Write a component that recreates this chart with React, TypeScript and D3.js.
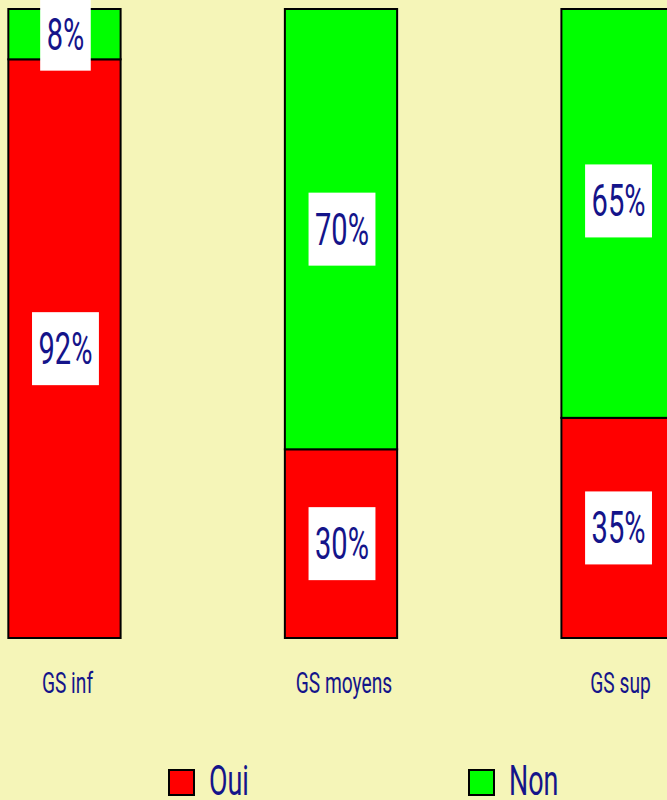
import React, { useEffect, useRef } from "react";
import * as d3 from "d3";

const categories = ["GS inf", "GS moyens", "GS sup"];
const oui = [92, 30, 35];
const non = [8, 70, 65];
const seriesNames = ["Oui", "Non"];
const seriesColors = ["#ff0000", "#00ff00"];

const W = 667;
const H = 800;
const INK = "#14148a";
const FONT = "Roboto, 'Liberation Sans', sans-serif";

export default function App() {
  const ref = useRef<SVGSVGElement | null>(null);

  useEffect(() => {
    const svg = d3.select(ref.current);
    svg.selectAll("*").remove();

    svg.append("rect").attr("width", W).attr("height", H).attr("fill", "#f5f5b8");

    const x = d3
      .scaleBand<string>()
      .domain(categories)
      .range([-73.8, 755.8])
      .paddingInner(0.594)
      .paddingOuter(0.297);
    const y = d3.scaleLinear().domain([0, 100]).range([638, 9]);

    const rows = categories.map((c, i) => ({ cat: c, Oui: oui[i], Non: non[i] }));
    const stack = d3.stack<any>().keys(seriesNames)(rows);

    const g = svg.append("g");
    stack.forEach((layer, si) => {
      layer.forEach((d, i) => {
        g.append("rect")
          .attr("x", x(categories[i])!)
          .attr("y", y(d[1]))
          .attr("width", x.bandwidth())
          .attr("height", y(d[0]) - y(d[1]))
          .attr("fill", seriesColors[si])
          .attr("stroke", "#000")
          .attr("stroke-width", 2);
      });
    });

    // horizontally condensed text helper
    const squeezed = (
      parent: d3.Selection<any, any, any, any>,
      cx: number,
      baseline: number,
      txt: string,
      size: number,
      squeeze: number,
      anchor = "middle"
    ) =>
      parent
        .append("text")
        .attr("transform", `translate(${cx},${baseline}) scale(${squeeze},1)`)
        .attr("text-anchor", anchor)
        .attr("font-family", FONT)
        .attr("font-size", size)
        .attr("fill", INK)
        .text(txt);

    // value labels on white boxes
    const VAL_SQ = 0.66;
    stack.forEach((layer, si) => {
      layer.forEach((d, i) => {
        const v = d[1] - d[0];
        const cx = x(categories[i])! + x.bandwidth() / 2 + 1;
        // the tall top segment of the last bar has its label lifted a little
        const lift = si === 1 && i === 2 ? 12.5 : 0;
        const cy = (y(d[0]) + y(d[1])) / 2 - lift;
        const lg = svg.append("g");
        const box = lg.append("rect").attr("fill", "#fff");
        const t = squeezed(lg, cx, cy + 15.5, `${v}%`, 44, VAL_SQ);
        const w = (t.node() as SVGTextElement).getBBox().width * VAL_SQ;
        box
          .attr("x", cx - w / 2 - 6.5)
          .attr("y", cy - 36.5)
          .attr("width", w + 13)
          .attr("height", 73);
      });
    });

    // category labels
    categories.forEach((c) => {
      squeezed(svg, x(c)! + x.bandwidth() / 2 + 3, 693, c, 30, 0.64);
    });

    // legend
    const legendX = [169, 469];
    seriesNames.forEach((s, i) => {
      svg
        .append("rect")
        .attr("x", legendX[i])
        .attr("y", 770)
        .attr("width", 25)
        .attr("height", 25)
        .attr("fill", seriesColors[i])
        .attr("stroke", "#000")
        .attr("stroke-width", 2);
      squeezed(svg, legendX[i] + 40, 795, s, 42, 0.64, "start");
    });
  }, []);

  return (
    <svg
      ref={ref}
      width={W}
      height={H}
      style={{ position: "absolute", left: 0, top: 0, display: "block" }}
    />
  );
}
